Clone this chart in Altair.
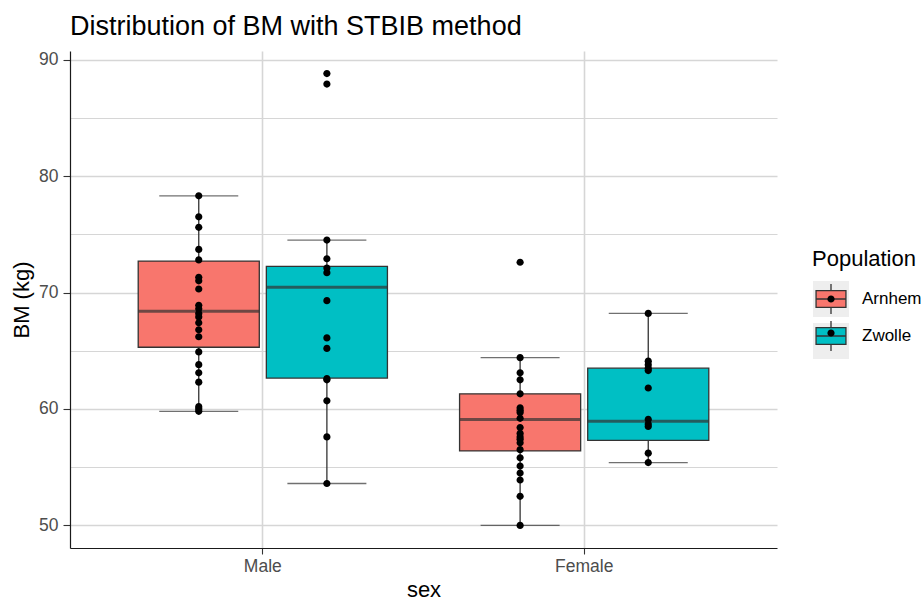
import altair as alt
import pandas as pd

FONT = "Liberation Sans"

sexes = ["Male", "Female"]
populations = ["Arnhem", "Zwolle"]
pop_colors = ["#F8766D", "#00BFC4"]

# box statistics
box_sex = ["Male", "Male", "Female", "Female"]
box_pop = ["Arnhem", "Zwolle", "Arnhem", "Zwolle"]
whisker_low = [59.8, 53.6, 50.0, 55.4]
q1 = [65.3, 62.65, 56.4, 57.3]
median = [68.4, 70.45, 59.1, 58.95]
q3 = [72.7, 72.25, 61.3, 63.5]
whisker_high = [78.3, 74.5, 64.4, 68.2]

# individual observations
male_arnhem = [78.3, 76.5, 75.6, 73.7, 72.8, 71.3, 71.0, 70.3, 68.9, 68.6, 68.2,
               67.9, 67.4, 66.8, 66.2, 64.9, 63.8, 63.1, 62.3, 60.2, 60.0, 59.8]
male_zwolle = [88.8, 87.9, 74.5, 72.9, 72.1, 71.7, 69.3, 66.1, 65.2, 62.6, 62.5,
               60.7, 57.6, 53.6]
female_arnhem = [72.6, 64.4, 63.1, 62.5, 61.3, 60.1, 59.9, 59.7, 59.2, 58.4, 57.9,
                 57.6, 57.4, 57.1, 56.5, 55.8, 55.1, 54.5, 53.9, 52.5, 50.0]
female_zwolle = [68.2, 64.1, 63.8, 63.5, 63.3, 61.8, 59.1, 58.7, 58.5, 56.2, 55.4]

y_ticks = [50, 55, 60, 65, 70, 75, 80, 85, 90]

rows = []
for s, p, vals in [("Male", "Arnhem", male_arnhem), ("Male", "Zwolle", male_zwolle),
                   ("Female", "Arnhem", female_arnhem), ("Female", "Zwolle", female_zwolle)]:
    for v in vals:
        rows.append({"sex": s, "Population": p, "BM": v})
points = pd.DataFrame(rows)

boxes = pd.DataFrame({
    "sex": box_sex, "Population": box_pop, "lo": whisker_low, "q1": q1,
    "med": median, "q3": q3, "hi": whisker_high,
})

x_axis = alt.Axis(
    title="sex", bandPosition=0.5, labelAngle=0, labelFont=FONT, labelFontSize=17.5,
    labelColor="#4D4D4D", labelPadding=3, tickSize=6, tickColor="#333333", tickWidth=1.1,
    domainColor="#1A1A1A", domainWidth=1.2, grid=True, gridColor="#D6D6D6", gridWidth=1.6,
    titleFont=FONT, titleFontSize=22, titleColor="black", titleFontWeight="normal",
    titlePadding=5,
)
y_axis = alt.Axis(
    title="BM (kg)", values=y_ticks,
    labelExpr="datum.value % 10 === 0 ? datum.label : ''",
    labelFont=FONT, labelFontSize=17.5, labelColor="#4D4D4D", labelPadding=5,
    tickSize=7, tickColor="#333333", tickWidth=1.1,
    tickOpacity={"condition": {"test": "datum.value % 10 === 0", "value": 1}, "value": 0},
    domainColor="#1A1A1A", domainWidth=1.2, grid=True, gridColor="#D6D6D6",
    gridWidth={"condition": {"test": "datum.value % 10 === 0", "value": 1.6}, "value": 1.1},
    titleFont=FONT, titleFontSize=22, titleColor="black", titleFontWeight="normal",
    titlePadding=5,
)

x_enc = alt.X("sex:N", sort=sexes, scale=alt.Scale(paddingInner=0, paddingOuter=0.1), axis=x_axis)
xo_enc = alt.XOffset("Population:N", sort=populations,
                     scale=alt.Scale(paddingInner=0.055, paddingOuter=0.2815))
y_scale = alt.Scale(domain=[48.06, 90.74], nice=False, zero=False)

LEG_X, LEG_Y = 742, 198
BOX_PATH = "M-0.83,-0.47H0.83V0.47H-0.83Z M-0.83,0H0.83 M0,-0.47V-0.83 M0,0.47V0.83"
DOT_PATH = "M-0.2,0A0.2,0.2,0,1,0,0.2,0A0.2,0.2,0,1,0,-0.2,0Z"


def legend(visible, **kw):
    base = dict(orient="none", legendX=LEG_X, legendY=LEG_Y, padding=0,
                title="Population" if visible else " ",
                titleFont=FONT, titleFontSize=22, titleColor="black",
                titleFontWeight="normal", titlePadding=9, labelFont=FONT,
                labelFontSize=17 if visible else 30,
                labelColor="black", labelOffset=12, symbolSize=1296, rowPadding=0,
                symbolStrokeWidth=1.3)
    if not visible:
        base["labelExpr"] = "''"
    base.update(kw)
    return alt.Legend(**base)


whisker = alt.Chart(boxes).transform_calculate(Pop3="datum.Population").mark_rule(
    color="#333333", strokeWidth=1.3
).encode(
    x=x_enc, xOffset=xo_enc,
    y=alt.Y("lo:Q", scale=y_scale, axis=y_axis),
    y2="hi:Q",
    opacity=alt.Opacity("Pop3:N", scale=alt.Scale(range=[1, 1]), legend=legend(
        False, symbolType="square", zindex=0,
        symbolFillColor="#EEEEEE", symbolStrokeColor="transparent", symbolOpacity=1)),
)

cap_lo = alt.Chart(boxes).mark_tick(color="#333333", size=79, thickness=1.3).encode(
    x=x_enc, xOffset=xo_enc, y=alt.Y("lo:Q", scale=y_scale, axis=y_axis))
cap_hi = alt.Chart(boxes).mark_tick(color="#333333", size=79, thickness=1.3).encode(
    x=x_enc, xOffset=xo_enc, y=alt.Y("hi:Q", scale=y_scale, axis=y_axis))

box = alt.Chart(boxes).mark_bar(stroke="#333333", strokeWidth=1.3).encode(
    x=x_enc, xOffset=xo_enc,
    y=alt.Y("q1:Q", scale=y_scale, axis=y_axis),
    y2="q3:Q",
    fill=alt.Fill("Population:N", scale=alt.Scale(range=pop_colors), legend=legend(
        True, symbolType=BOX_PATH, symbolStrokeColor="#333333",
        symbolOpacity=1, zindex=1)),
)

med = alt.Chart(boxes).mark_tick(color="#333333", size=121, thickness=3).encode(
    x=x_enc, xOffset=xo_enc, y=alt.Y("med:Q", scale=y_scale, axis=y_axis))

dots = alt.Chart(points).transform_calculate(Pop2="datum.Population").mark_point(
    filled=True, size=1296, color="black", opacity=1, strokeWidth=0
).encode(
    x=x_enc, xOffset=xo_enc,
    y=alt.Y("BM:Q", scale=y_scale, axis=y_axis),
    shape=alt.Shape("Pop2:N", scale=alt.Scale(range=[DOT_PATH, DOT_PATH]), legend=legend(
        False, zindex=2, symbolFillColor="black", symbolStrokeColor="transparent",
        symbolOpacity=1)),
)

chart = alt.layer(whisker, cap_lo, cap_hi, box, med, dots).properties(
    width=707, height=497,
    autosize=alt.AutoSizeParams(type="none"),
    padding={"left": 70, "top": 51, "right": 145, "bottom": 53},
    background="white",
    title=alt.Title("Distribution of BM with STBIB method", anchor="start", frame="group",
                    font=FONT, fontSize=27, fontWeight="normal", color="black",
                    baseline="alphabetic", offset=-11),
).configure_view(stroke=None)

chart.save("out.html", embed_options={"renderer": "svg", "actions": False})
